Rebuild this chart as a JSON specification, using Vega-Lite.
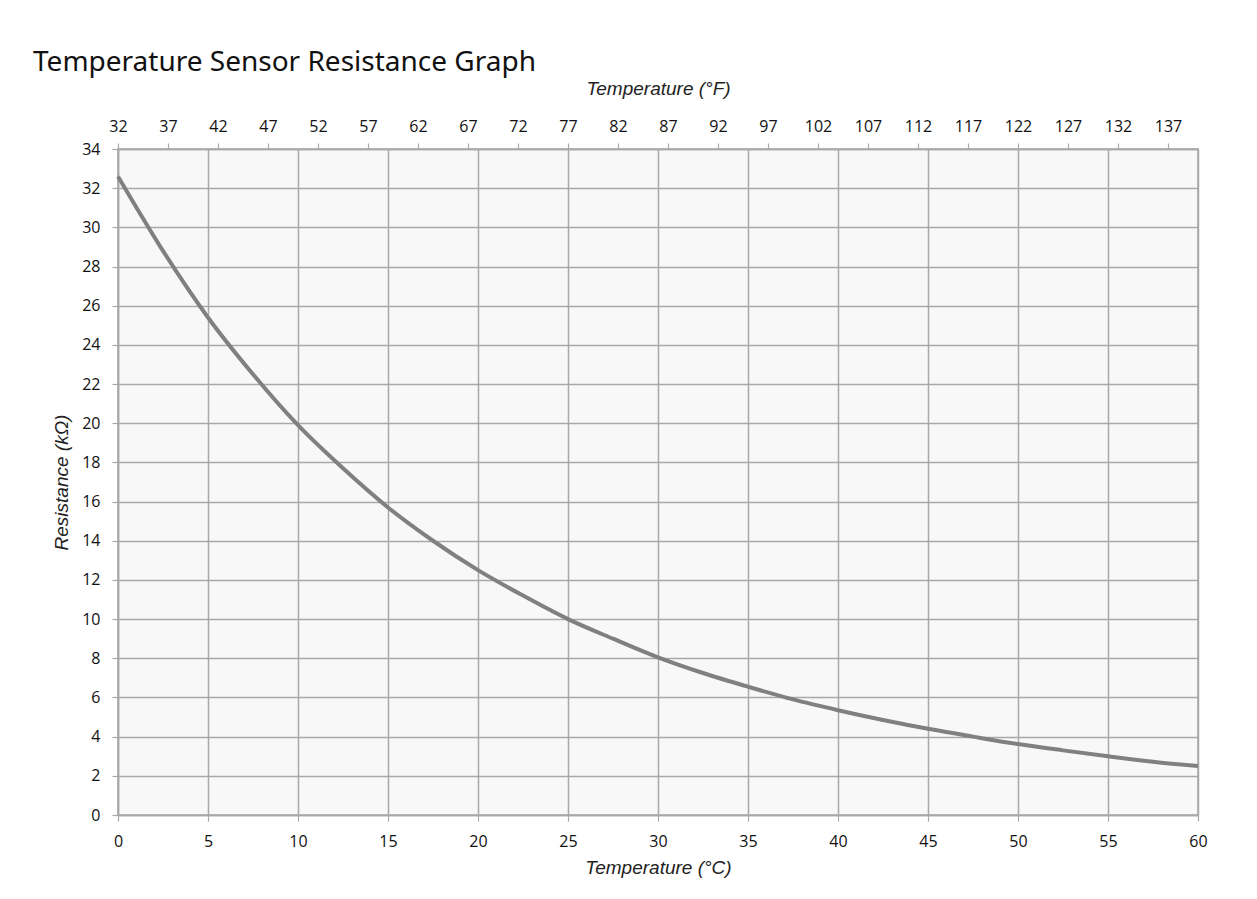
{
  "$schema": "https://vega.github.io/schema/vega-lite/v6.json",
  "width": 1080,
  "height": 666,
  "autosize": {"type": "none"},
  "padding": {"left": 118, "top": 149, "right": 59, "bottom": 84},
  "background": "white",
  "title": {
    "text": "Temperature Sensor Resistance Graph",
    "anchor": "start",
    "frame": "group",
    "dx": -85,
    "offset": 2,
    "font": "Noto Sans",
    "fontSize": 28,
    "fontWeight": "normal",
    "color": "#111111"
  },
  "data": {
    "values": [
      {"C": 0, "F": 32, "R": 32.6},
      {"C": 2.5, "F": 36.5, "R": 28.8},
      {"C": 5, "F": 41, "R": 25.4},
      {"C": 7.5, "F": 45.5, "R": 22.5},
      {"C": 10, "F": 50, "R": 19.9},
      {"C": 12.5, "F": 54.5, "R": 17.7},
      {"C": 15, "F": 59, "R": 15.7},
      {"C": 17.5, "F": 63.5, "R": 14.0},
      {"C": 20, "F": 68, "R": 12.5},
      {"C": 22.5, "F": 72.5, "R": 11.2},
      {"C": 25, "F": 77, "R": 10.0},
      {"C": 27.5, "F": 81.5, "R": 9.0},
      {"C": 30, "F": 86, "R": 8.05},
      {"C": 32.5, "F": 90.5, "R": 7.25},
      {"C": 35, "F": 95, "R": 6.55},
      {"C": 37.5, "F": 99.5, "R": 5.9},
      {"C": 40, "F": 104, "R": 5.35},
      {"C": 42.5, "F": 108.5, "R": 4.85},
      {"C": 45, "F": 113, "R": 4.4},
      {"C": 47.5, "F": 117.5, "R": 4.0},
      {"C": 50, "F": 122, "R": 3.62},
      {"C": 52.5, "F": 126.5, "R": 3.3},
      {"C": 55, "F": 131, "R": 3.0},
      {"C": 57.5, "F": 135.5, "R": 2.72},
      {"C": 60, "F": 140, "R": 2.5}
    ]
  },
  "layer": [
    {
      "mark": {"type": "line", "color": "#808080", "strokeWidth": 4, "interpolate": "monotone"},
      "encoding": {
        "x": {
          "field": "C", "type": "quantitative",
          "scale": {"domain": [0, 60], "nice": false, "zero": false},
          "axis": {
            "orient": "bottom",
            "title": "Temperature (°C)",
            "values": [0, 5, 10, 15, 20, 25, 30, 35, 40, 45, 50, 55, 60],
            "grid": true,
            "labelPadding": 12,
            "titlePadding": 9
          }
        },
        "y": {
          "field": "R", "type": "quantitative",
          "scale": {"domain": [0, 34], "nice": false},
          "axis": {
            "title": "Resistance (kΩ)",
            "values": [0, 2, 4, 6, 8, 10, 12, 14, 16, 18, 20, 22, 24, 26, 28, 30, 32, 34],
            "grid": true,
            "labelPadding": 12,
            "titlePadding": 10
          }
        }
      }
    },
    {
      "mark": {"type": "line", "strokeOpacity": 0},
      "encoding": {
        "x": {
          "field": "F", "type": "quantitative",
          "scale": {"domain": [32, 140], "nice": false, "zero": false},
          "axis": {
            "orient": "top",
            "title": "Temperature (°F)",
            "values": [32, 37, 42, 47, 52, 57, 62, 67, 72, 77, 82, 87, 92, 97, 102, 107, 112, 117, 122, 127, 132, 137],
            "grid": false,
            "labelPadding": 9,
            "titlePadding": 20
          }
        },
        "y": {
          "field": "R", "type": "quantitative",
          "axis": {
            "title": "Resistance (kΩ)",
            "values": [0, 2, 4, 6, 8, 10, 12, 14, 16, 18, 20, 22, 24, 26, 28, 30, 32, 34],
            "grid": true,
            "labelPadding": 12,
            "titlePadding": 10
          }
        }
      }
    }
  ],
  "resolve": {"scale": {"x": "independent"}, "axis": {"x": "independent"}},
  "config": {
    "view": {"fill": "#f8f8f8", "stroke": "#a8a8a8", "strokeWidth": 1.5},
    "axis": {
      "domainColor": "#a8a8a8",
      "domainWidth": 1.5,
      "gridColor": "#a8a8a8",
      "gridWidth": 1.5,
      "gridOpacity": 1,
      "tickColor": "#a8a8a8",
      "tickWidth": 1.2,
      "tickSize": 6,
      "labelFont": "Open Sans",
      "labelFontSize": 16,
      "labelColor": "#111111",
      "labelOverlap": false,
      "labelFlush": false,
      "labelBound": false,
      "titleFont": "Liberation Sans",
      "titleFontSize": 19,
      "titleFontStyle": "italic",
      "titleFontWeight": "normal",
      "titleColor": "#222222"
    }
  }
}
